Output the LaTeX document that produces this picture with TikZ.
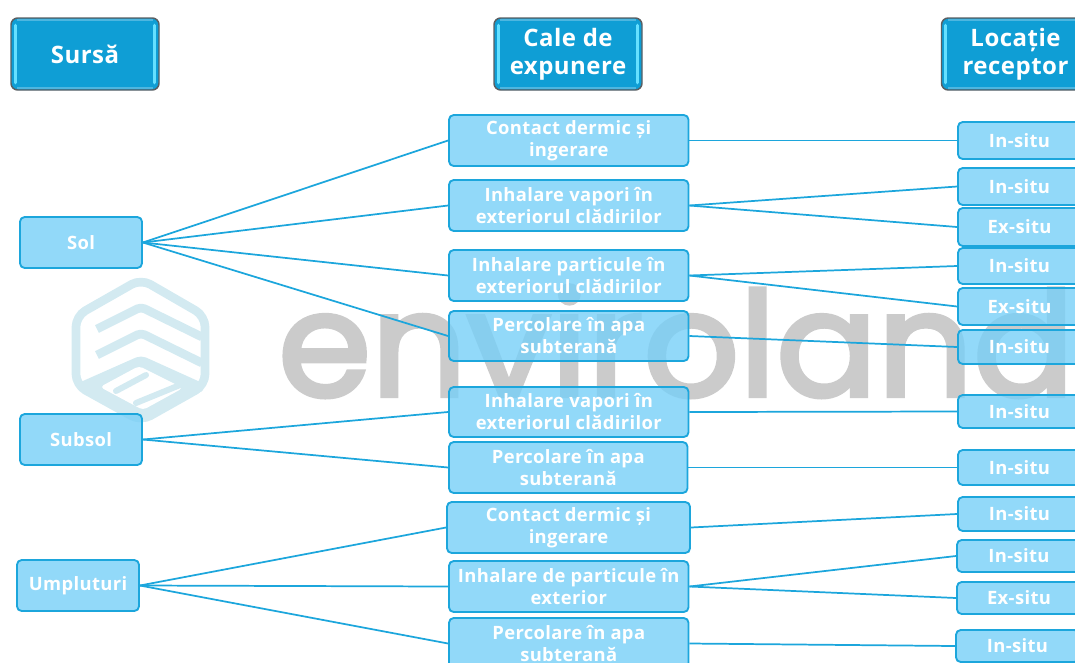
\documentclass[tikz,border=0pt]{standalone}
\usepackage{fontspec}
\setmainfont[LetterSpace=2]{Open Sans}
\newfontfamily\wmfont[FakeBold=3]{Poppins}
\usetikzlibrary{calc}
\definecolor{hdr}{HTML}{0F9ED5}
\definecolor{hdrlight}{HTML}{4DB6E0}
\definecolor{hdredge}{HTML}{5A5F63}
\definecolor{glow}{HTML}{66E0FF}
\definecolor{boxfill}{HTML}{77CFF7}
\definecolor{boxedge}{HTML}{1CA6DC}
\definecolor{wm}{HTML}{CBCBCB}
\definecolor{logo}{HTML}{D3EAF1}
\tikzset{
  x=0.75pt,y=-0.75pt,
  hdrbox/.style={draw=hdredge,line width=1.1pt,fill=hdr,rounded corners=5pt,minimum width=111pt,minimum height=54pt,inner sep=0pt,text=white,font=\fontsize{18}{21}\selectfont\bfseries,align=center},
  itembox/.style={draw=boxedge,line width=1.4pt,fill=boxfill,fill opacity=.8,text opacity=1,rounded corners=3.5pt,inner sep=0pt,text=white,font=\fontsize{13.8}{16.5}\selectfont\bfseries,align=center},
  link/.style={draw=boxedge,line width=1.3pt},
  logoline/.style={draw=logo,line width=6.5pt,line join=round},
  glowbar/.style={draw=glow,line width=2.3pt,line cap=round},
  edgeband/.style={draw=hdrlight,line width=1.2pt},
}
\newcommand{\itembx}[6]{% name, x1, y1, x2, y2, text
  \node[itembox,minimum width={(#4-#2)*0.75pt},minimum height={(#5-#3)*0.75pt}] (#1) at ({(#2+#4)/2},{(#3+#5)/2}) {#6};}
\newcommand{\lowered}[1]{\raisebox{-1pt}[\height][\depth]{\begin{tabular}{@{}c@{}}#1\end{tabular}}}
\begin{document}
\begin{tikzpicture}
\useasboundingbox (0,0) rectangle (1075,662);
\clip (0,0) rectangle (1075,662);
% watermark logo
\fill[logo] (141,362) -- (203,390) -- (141,420) -- (80,390) -- cycle;
\draw[logoline,rounded corners=8pt] (141,279) -- (205,316) -- (205,385) -- (141,421) -- (76,385) -- (76,316) -- cycle;
\draw[logoline,rounded corners=3pt] (97,329) -- (141,307) -- (202,337);
\draw[logoline,rounded corners=3pt] (97,355) -- (141,333) -- (202,363);
\draw[logoline,rounded corners=3pt] (80,387) -- (141,360) -- (203,388);
\fill[white,rounded corners=3pt] (100,387) -- (139,366) -- (183,388) -- (143,410) -- cycle;
\draw[logo,line width=4.5pt,line cap=round] (116,391) -- (146,375);
\draw[logo,line width=4.5pt,line cap=round] (136,403) -- (180,385);
% watermark word
\node[inner sep=0pt,anchor=base west,text=wm,xscale=1.03,font=\wmfont\fontsize{109}{109}\selectfont] (word) at (278,396) {enviroland};
% boxes
\itembx{sol}{20}{217}{142}{268}{Sol}
\itembx{subsol}{20}{414}{142}{465}{Subsol}
\itembx{umpl}{17}{560}{139}{611}{Umpluturi}
\itembx{c1}{449}{115}{688.5}{166}{Contact dermic și\\ingerare}
\itembx{c2}{449}{180}{688.5}{231}{Inhalare vapori în\\exteriorul clădirilor}
\itembx{c3}{449}{250}{688.5}{301}{Inhalare particule în\\exteriorul clădirilor}
\itembx{c4}{449}{311}{688.5}{361}{Percolare în apa\\subterană}
\itembx{c5}{449}{387}{688.5}{437}{Inhalare vapori în\\exteriorul clădirilor}
\itembx{c6}{449}{442}{687.5}{493}{Percolare în apa\\subterană}
\itembx{c7}{447}{502}{690}{553}{Contact dermic și\\ingerare}
\itembx{c8}{449}{561}{688.5}{612}{Inhalare de particule în\\exterior}
\itembx{c9}{449}{618}{688.5}{669}{Percolare în apa\\subterană}
\itembx{r1}{958}{122}{1081}{159}{In-situ}
\itembx{r2}{958}{168}{1081}{205}{In-situ}
\itembx{r3}{958}{208}{1081}{246}{Ex-situ}
\itembx{r4}{958}{248}{1081}{284}{In-situ}
\itembx{r5}{958}{288}{1081}{325}{Ex-situ}
\itembx{r6}{958}{330}{1081}{364}{In-situ}
\itembx{r7}{958}{395}{1081}{428}{In-situ}
\itembx{r8}{958}{450}{1081}{485}{In-situ}
\itembx{r9}{958}{497}{1081}{531}{In-situ}
\itembx{r10}{957}{540}{1081}{572}{In-situ}
\itembx{r11}{957}{582}{1081}{614}{Ex-situ}
\itembx{r12}{956}{630}{1079}{662}{In-situ}
\foreach \a/\b in {sol/c1,sol/c2,sol/c3,sol/c4,subsol/c5,subsol/c6,umpl/c7,umpl/c8,umpl/c9}
  \draw[link] (\a.east) -- (\b.west);
\foreach \a/\b in {c1/r1,c2/r2,c2/r3,c3/r4,c3/r5,c4/r6,c5/r7,c6/r8,c7/r9,c8/r10,c8/r11,c9/r12}
  \draw[link] (\a.east) -- (\b.west);
% header boxes
\node[hdrbox] (h1) at (85,54) {Sursă};
\node[hdrbox] (h2) at (568,54) {\lowered{Cale de\\expunere}};
\node[hdrbox] (h3) at (1015.5,54) {\lowered{Locație\\receptor}};
\foreach \n in {h1,h2,h3}{
  \draw[edgeband] ($(\n.north west)+(7,2.5)$) -- ($(\n.north east)+(-7,2.5)$);
  \draw[edgeband] ($(\n.south west)+(7,-2.5)$) -- ($(\n.south east)+(-7,-2.5)$);
  \draw[glowbar] ($(\n.north west)+(5,8)$) -- ($(\n.south west)+(5,-8)$);
  \draw[glowbar] ($(\n.north east)+(-5,8)$) -- ($(\n.south east)+(-5,-8)$);
}
\end{tikzpicture}
\end{document}
